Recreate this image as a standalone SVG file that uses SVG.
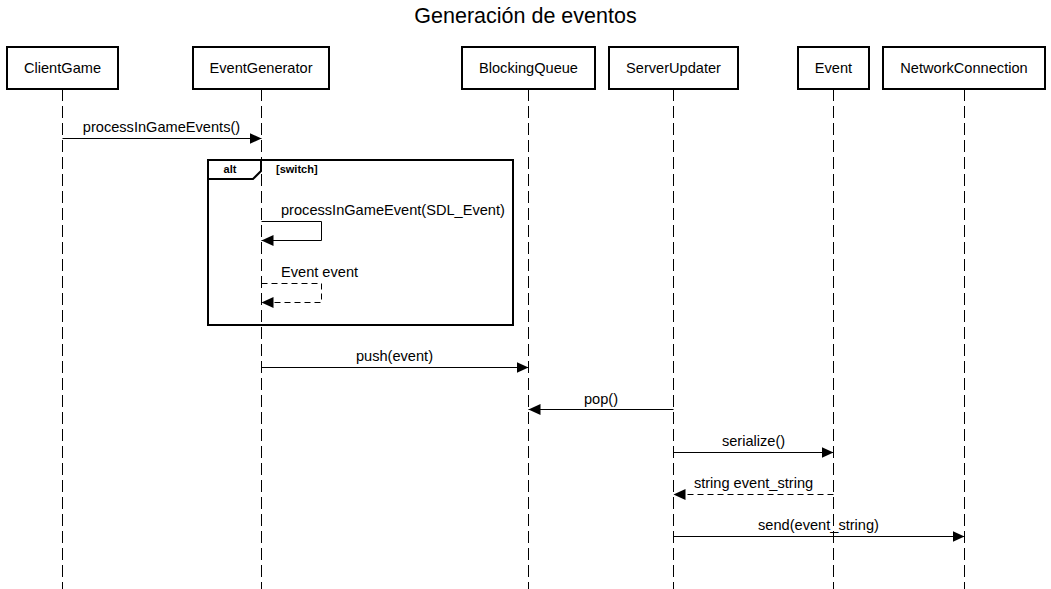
<svg xmlns="http://www.w3.org/2000/svg" width="1051" height="589" viewBox="0 0 1051 589">
<style>
text{font-family:"Liberation Sans",Arial,sans-serif;fill:#000}
.box{fill:#fff;stroke:#000;stroke-width:2}
.lbl{font-size:14.6px;text-anchor:middle}
.life{stroke:#000;stroke-width:1;stroke-dasharray:12 5;fill:none}
.msg{stroke:#000;stroke-width:1;fill:none}
.ret{stroke:#000;stroke-width:1;fill:none;stroke-dasharray:6 4}
.m{font-size:14.6px}
</style>
<defs>
<marker id="ah" markerWidth="13" markerHeight="11" refX="12" refY="5.5" orient="auto" markerUnits="userSpaceOnUse">
<path d="M0,0 L12,5.5 L0,11 Z" fill="#000"/>
</marker>
</defs>
<rect width="1051" height="589" fill="#fff"/>
<text x="525.5" y="23" font-size="21.5" text-anchor="middle">Generación de eventos</text>
<g id="lifelines">
<line class="life" x1="62.5" y1="89" x2="62.5" y2="589"/>
<line class="life" x1="261.5" y1="89" x2="261.5" y2="589"/>
<line class="life" x1="528.5" y1="89" x2="528.5" y2="589"/>
<line class="life" x1="673.5" y1="89" x2="673.5" y2="589"/>
<line class="life" x1="833.5" y1="89" x2="833.5" y2="589"/>
<line class="life" x1="964.5" y1="89" x2="964.5" y2="589"/>
</g>
<g id="ClientGame"><rect class="box" x="7" y="47" width="111" height="42"/><text class="lbl" x="62.5" y="73">ClientGame</text></g>
<g id="EventGenerator"><rect class="box" x="193" y="47" width="136" height="42"/><text class="lbl" x="261" y="73">EventGenerator</text></g>
<g id="BlockingQueue"><rect class="box" x="462" y="47" width="133" height="42"/><text class="lbl" x="528.5" y="73">BlockingQueue</text></g>
<g id="ServerUpdater"><rect class="box" x="609" y="47" width="129" height="42"/><text class="lbl" x="673.5" y="73">ServerUpdater</text></g>
<g id="Event"><rect class="box" x="798" y="47" width="71" height="42"/><text class="lbl" x="833.5" y="73">Event</text></g>
<g id="NetworkConnection"><rect class="box" x="883" y="47" width="162" height="42"/><text class="lbl" x="964" y="73">NetworkConnection</text></g>
<g id="alt-frame">
<rect x="208" y="160" width="305" height="165" fill="none" stroke="#000" stroke-width="2"/>
<path d="M208,179 L253,179 L261,171 L261,160" fill="none" stroke="#000" stroke-width="2"/>
<text x="230" y="173" font-size="11" font-weight="bold" text-anchor="middle">alt</text>
<text x="276" y="173" font-size="11" font-weight="bold">[switch]</text>
</g>
<g id="connectors">
<line class="msg" x1="62.5" y1="138.5" x2="261.5" y2="138.5" marker-end="url(#ah)"/>
<text class="m" x="161.5" y="132" text-anchor="middle">processInGameEvents()</text>
<polyline class="msg" points="261.5,221.5 321.5,221.5 321.5,240.5 261.5,240.5" marker-end="url(#ah)"/>
<text class="m" x="281" y="215">processInGameEvent(SDL_Event)</text>
<polyline class="ret" points="261.5,283.5 321.5,283.5 321.5,302.5 261.5,302.5" marker-end="url(#ah)"/>
<text class="m" x="281" y="277">Event event</text>
<line class="msg" x1="261.5" y1="367.5" x2="528.5" y2="367.5" marker-end="url(#ah)"/>
<text class="m" x="394.5" y="361" text-anchor="middle">push(event)</text>
<line class="msg" x1="673.5" y1="409.5" x2="528.5" y2="409.5" marker-end="url(#ah)"/>
<text class="m" x="601" y="404" text-anchor="middle">pop()</text>
<line class="msg" x1="673.5" y1="452.5" x2="833.5" y2="452.5" marker-end="url(#ah)"/>
<text class="m" x="753.5" y="446" text-anchor="middle">serialize()</text>
<line class="ret" x1="833.5" y1="494.5" x2="673.5" y2="494.5" marker-end="url(#ah)"/>
<text class="m" x="753.5" y="488" text-anchor="middle">string event_string</text>
<line class="msg" x1="673.5" y1="536.5" x2="964.5" y2="536.5" marker-end="url(#ah)"/>
<text class="m" x="818.5" y="530" text-anchor="middle">send(event_string)</text>
</g>
</svg>
